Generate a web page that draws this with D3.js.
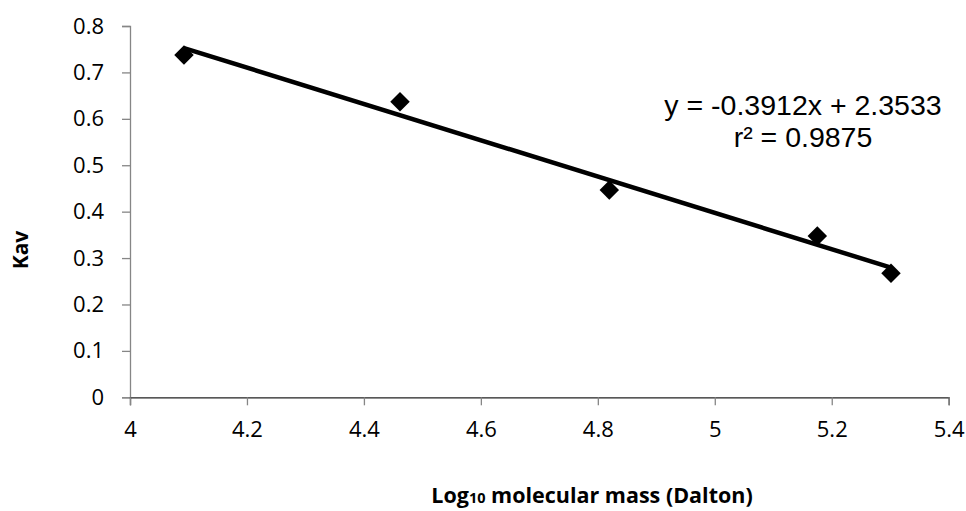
<!DOCTYPE html>
<html>
<head>
<meta charset="utf-8">
<script src="https://cdn.jsdelivr.net/npm/d3@7"></script>
<style>
  html, body { margin: 0; padding: 0; background: #fff; }
  svg { display: block; }
</style>
</head>
<body>
<svg id="chart" width="966" height="511"></svg>
<script>
// Log10 molecular mass of the standards and their partition coefficients
const logMass = [4.0923, 4.4617, 4.8196, 5.1753, 5.3013];
const kav     = [0.7376, 0.6370, 0.4467, 0.3476, 0.2672];

// Linear fit reported on the chart
const slope = -0.3912;
const intercept = 2.3533;
const rSquared = 0.9875;

const xTicks = [4, 4.2, 4.4, 4.6, 4.8, 5, 5.2, 5.4];
const yTicks = [0, 0.1, 0.2, 0.3, 0.4, 0.5, 0.6, 0.7, 0.8];

const svg = d3.select("#chart");
const plotLeft = 130, plotRight = 948.7, plotTop = 26, plotBottom = 397.3;

const x = d3.scaleLinear().domain([4, 5.4]).range([plotLeft, plotRight]);
const y = d3.scaleLinear().domain([0, 0.8]).range([plotBottom, plotTop]);

const fmt = d => String(+d.toFixed(1));

function styleAxis(g, domainColor) {
  g.attr("font-family", "'Open Sans', Lato, sans-serif").attr("font-size", 22);
  g.selectAll(".tick text").attr("fill", "#000");
  g.select(".domain").attr("stroke", domainColor).attr("stroke-width", 1.3);
  g.selectAll(".tick line").attr("stroke", "#868686").attr("stroke-width", 1.3);
}

// y axis
const yAxis = svg.append("g")
  .attr("transform", `translate(${plotLeft},0)`)
  .call(d3.axisLeft(y).tickValues(yTicks).tickFormat(fmt).tickSize(8).tickPadding(18));
styleAxis(yAxis, "#868686");

// x axis
const xAxis = svg.append("g")
  .attr("transform", `translate(0,${plotBottom})`)
  .call(d3.axisBottom(x).tickValues(xTicks).tickFormat(fmt).tickSize(8).tickPadding(16));
styleAxis(xAxis, "#222");

// markers
const diamond = d3.symbol().type(d3.symbolSquare).size(190);
svg.append("g").selectAll("path")
  .data(logMass.map((v, i) => [v, kav[i]]))
  .join("path")
  .attr("d", diamond)
  .attr("transform", d => `translate(${x(d[0])},${y(d[1])}) rotate(45)`)
  .attr("fill", "#000");

// trend line over the range of the standards
const xMin = d3.min(logMass), xMax = d3.max(logMass);
svg.append("line")
  .attr("x1", x(xMin)).attr("y1", y(slope * xMin + intercept))
  .attr("x2", x(xMax)).attr("y2", y(slope * xMax + intercept))
  .attr("stroke", "#000").attr("stroke-width", 4.5);

// fit equation
const eq = svg.append("text")
  .attr("text-anchor", "middle")
  .style("font-family", "'Liberation Sans', Arial, sans-serif")
  .style("font-size", "28.5px");
eq.append("tspan").attr("x", 803).attr("y", 115)
  .text(`y = ${slope.toFixed(4)}x + ${intercept.toFixed(4)}`);
eq.append("tspan").attr("x", 803).attr("y", 146.5)
  .text(`r² = ${rSquared.toFixed(4)}`);

// axis titles
const xt = svg.append("text")
  .attr("x", 592).attr("y", 503)
  .attr("text-anchor", "middle")
  .style("font-family", "'Open Sans', Lato, sans-serif")
  .style("font-weight", "bold")
  .style("font-size", "21.5px");
xt.append("tspan").text("Log");
xt.append("tspan").attr("font-size", "14.5px").text("10");
xt.append("tspan").text(" molecular mass (Dalton)");

svg.append("text")
  .attr("transform", "translate(28,250) rotate(-90)")
  .attr("text-anchor", "middle")
  .style("font-family", "'Open Sans', Lato, sans-serif")
  .style("font-weight", "bold")
  .style("font-size", "21px")
  .text("Kav");
</script>
</body>
</html>
